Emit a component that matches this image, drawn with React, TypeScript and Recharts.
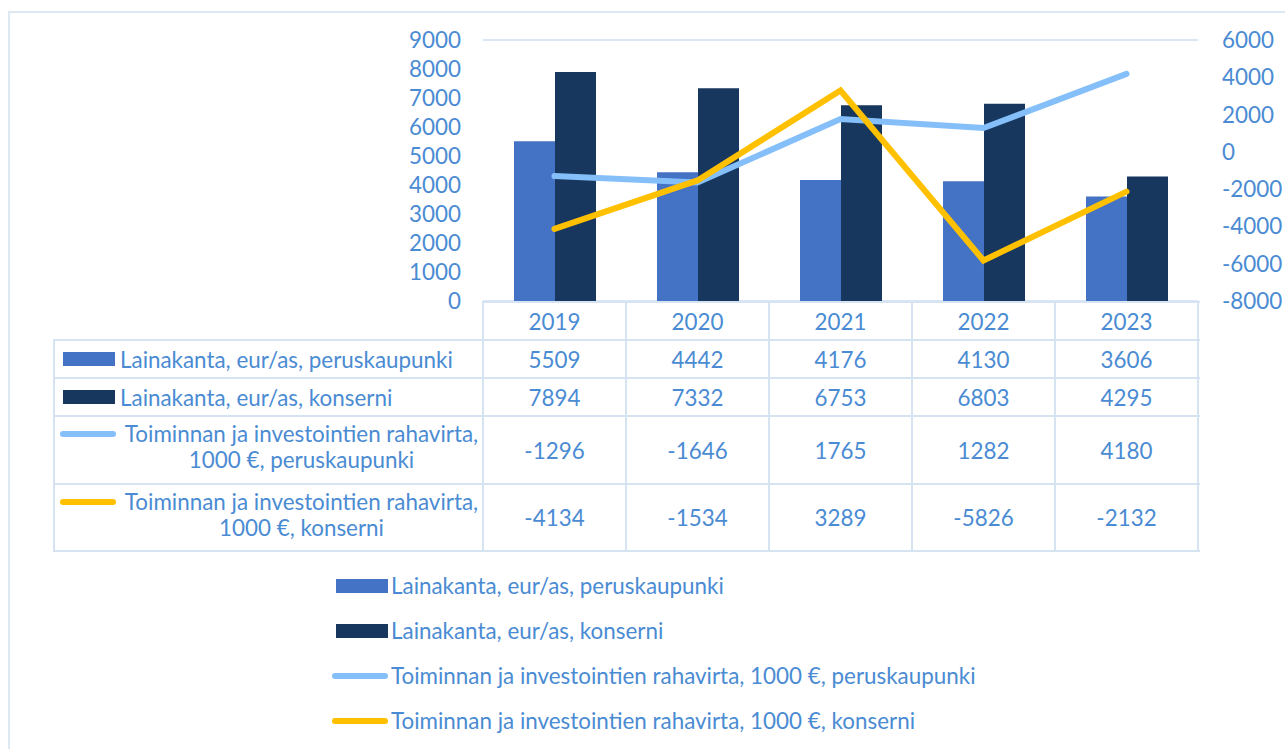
import React from "react";
import { ComposedChart, Bar, Line, XAxis, YAxis, CartesianGrid, Legend } from "recharts";

const years = ["2019", "2020", "2021", "2022", "2023"];
const lainaPerus = [5509, 4442, 4176, 4130, 3606];
const lainaKonserni = [7894, 7332, 6753, 6803, 4295];
const rahaPerus = [-1296, -1646, 1765, 1282, 4180];
const rahaKonserni = [-4134, -1534, 3289, -5826, -2132];
const leftTicks = [0, 1000, 2000, 3000, 4000, 5000, 6000, 7000, 8000, 9000];
const rightTicks = [-8000, -6000, -4000, -2000, 0, 2000, 4000, 6000];

const seriesNames = [
  "Lainakanta, eur/as, peruskaupunki",
  "Lainakanta, eur/as, konserni",
  "Toiminnan ja investointien rahavirta, 1000 €, peruskaupunki",
  "Toiminnan ja investointien rahavirta, 1000 €, konserni",
];
const tableLabels = [
  ["Lainakanta, eur/as, peruskaupunki"],
  ["Lainakanta, eur/as, konserni"],
  ["Toiminnan ja investointien rahavirta,", "1000 €, peruskaupunki"],
  ["Toiminnan ja investointien rahavirta,", "1000 €, konserni"],
];
const seriesValues = [lainaPerus, lainaKonserni, rahaPerus, rahaKonserni];
const colors = ["#4472C4", "#17375E", "#85BFFA", "#FFC000"];
const kinds = ["bar", "bar", "line", "line"];

const data = years.map((y, i) => ({
  year: y,
  lp: lainaPerus[i],
  lk: lainaKonserni[i],
  rp: rahaPerus[i],
  rk: rahaKonserni[i],
}));

const TEXT = "#4A8BD3";
const BORDER = "#D5E3F3";
const FONT = "Lato, 'Open Sans', sans-serif";
const FS = 22.4;

const W = 1285;
const H = 749;
const PL = 483;
const PR = 1198;
const PT = 40;
const PB = 301;

const rowTops = [302, 340, 378, 416, 484, 551];
const tableLeft = 54;

function Swatch({ i }: { i: number }) {
  if (kinds[i] === "bar") {
    return <div style={{ width: 52, height: 14, background: colors[i], flex: "none" }} />;
  }
  return <div style={{ width: 56, height: 6, borderRadius: 3, background: colors[i], flex: "none" }} />;
}

function LegendContent() {
  return (
    <div style={{ fontFamily: FONT, fontSize: FS, color: TEXT }}>
      {seriesNames.map((n, i) => (
        <div key={i} style={{ display: "flex", alignItems: "center", height: 45 }}>
          <div style={{ width: 56, display: "flex", justifyContent: kinds[i] === "bar" ? "flex-end" : "flex-start", marginRight: 3 }}>
            <Swatch i={i} />
          </div>
          <span style={{ whiteSpace: "nowrap" }}>{n}</span>
        </div>
      ))}
    </div>
  );
}

export default function App() {
  const colW = (PR - PL) / years.length;
  return (
    <div style={{ position: "absolute", left: 0, top: 0, width: W, height: H, overflow: "hidden", background: "#fff" }}>
      <div style={{ position: "absolute", left: 8, top: 11, width: 1400, height: 900, border: "2px solid #DEE8F3" }} />
      <div style={{ position: "absolute", left: 0, top: 0 }}>
        <ComposedChart
          width={W}
          height={H}
          data={data}
          margin={{ top: PT, right: 0, bottom: 0, left: 0 }}
          barGap={0}
          barCategoryGap={30}
        >
          <CartesianGrid vertical={false} stroke="#DAE6F4" strokeWidth={2} />
          <XAxis
            dataKey="year"
            height={H - PB}
            axisLine={false}
            tickLine={false}
            tickMargin={7}
            tick={{ fill: TEXT, fontSize: FS, fontFamily: FONT }}
          />
          <YAxis
            yAxisId="left"
            width={PL}
            domain={[0, 9000]}
            ticks={leftTicks}
            interval={0}
            axisLine={false}
            tickLine={false}
            tickMargin={16}
            tick={{ fill: TEXT, fontSize: FS, fontFamily: FONT }}
          />
          <YAxis
            yAxisId="right"
            orientation="right"
            width={W - PR}
            domain={[-8000, 6000]}
            ticks={rightTicks}
            interval={0}
            axisLine={false}
            tickLine={false}
            tickMargin={18}
            tick={{ fill: TEXT, fontSize: FS, fontFamily: FONT, textAnchor: "start" }}
          />
          <Bar yAxisId="left" dataKey="lp" name={seriesNames[0]} fill={colors[0]} barSize={41} isAnimationActive={false} />
          <Bar yAxisId="left" dataKey="lk" name={seriesNames[1]} fill={colors[1]} barSize={41} isAnimationActive={false} />
          <Line yAxisId="right" dataKey="rp" name={seriesNames[2]} stroke={colors[2]} strokeWidth={6} dot={false} strokeLinecap="round" isAnimationActive={false} />
          <Line yAxisId="right" dataKey="rk" name={seriesNames[3]} stroke={colors[3]} strokeWidth={6} dot={false} strokeLinecap="round" isAnimationActive={false} />
          <Legend
            layout="vertical"
            verticalAlign="middle"
            align="center"
            content={() => <LegendContent />}
            wrapperStyle={{ position: "absolute", left: 332, top: 563, width: 750 }}
          />
        </ComposedChart>
      </div>
      {/* data table */}
      <div style={{ position: "absolute", left: 0, top: 0, fontFamily: FONT, fontSize: FS, color: TEXT, pointerEvents: "none" }}>
        <div style={{ position: "absolute", left: PL, top: rowTops[0] - 1, width: PR - PL + 2, height: 2, background: BORDER }} />
        {rowTops.slice(1).map((t, i) => (
          <div key={"h" + i} style={{ position: "absolute", left: tableLeft, top: t - 1, width: PR - tableLeft + 2, height: 2, background: BORDER }} />
        ))}
        <div style={{ position: "absolute", left: tableLeft - 1, top: rowTops[1] - 1, width: 2, height: rowTops[5] - rowTops[1] + 2, background: BORDER }} />
        {years.map((_, i) => (
          <div key={"v" + i} style={{ position: "absolute", left: PL + i * colW - 1, top: rowTops[0] - 1, width: 2, height: rowTops[5] - rowTops[0] + 2, background: BORDER }} />
        ))}
        <div style={{ position: "absolute", left: PR - 1, top: rowTops[0] - 1, width: 2, height: rowTops[5] - rowTops[0] + 2, background: BORDER }} />
        {seriesValues.map((vals, r) => {
          const top = rowTops[r + 1];
          const h = rowTops[r + 2] - top;
          const twoLine = tableLabels[r].length > 1;
          return (
            <React.Fragment key={"r" + r}>
              <div style={{ position: "absolute", left: tableLeft + 4, top, width: PL - tableLeft - 6, height: h, display: "flex", alignItems: "center" }}>
                {twoLine ? (
                  <>
                    <div style={{ position: "absolute", left: 2, top: 15 }}><Swatch i={r} /></div>
                    <div style={{ position: "absolute", left: 60, right: -4, top: 5, textAlign: "center", lineHeight: "26px" }}>
                      {tableLabels[r].map((l, k) => <div key={k} style={{ whiteSpace: "nowrap" }}>{l}</div>)}
                    </div>
                  </>
                ) : (
                  <>
                    <div style={{ marginLeft: 5, marginRight: 5 }}><Swatch i={r} /></div>
                    <span style={{ whiteSpace: "nowrap" }}>{tableLabels[r][0]}</span>
                  </>
                )}
              </div>
              {vals.map((v, c) => (
                <div key={c} style={{ position: "absolute", left: PL + c * colW, top, width: colW, height: h, display: "flex", alignItems: "center", justifyContent: "center" }}>
                  {v}
                </div>
              ))}
            </React.Fragment>
          );
        })}
      </div>
    </div>
  );
}
